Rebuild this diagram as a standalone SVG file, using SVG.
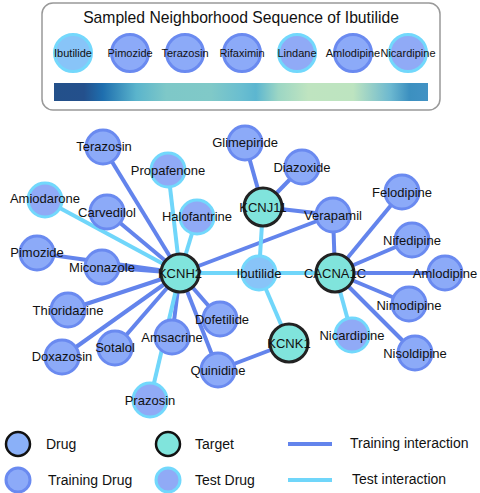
<svg xmlns="http://www.w3.org/2000/svg" width="480" height="493" viewBox="0 0 480 493">
<defs>
<linearGradient id="seq" x1="0" y1="0" x2="1" y2="0">
<stop offset="0" stop-color="#23508a"/>
<stop offset="0.08" stop-color="#24508c"/>
<stop offset="0.13" stop-color="#1e6eae"/>
<stop offset="0.22" stop-color="#5ab4cc"/>
<stop offset="0.3" stop-color="#7ec8c8"/>
<stop offset="0.42" stop-color="#80c9c8"/>
<stop offset="0.5" stop-color="#6abed0"/>
<stop offset="0.54" stop-color="#5cb6d0"/>
<stop offset="0.6" stop-color="#9cd6c4"/>
<stop offset="0.68" stop-color="#bfe4c0"/>
<stop offset="0.8" stop-color="#bde4c0"/>
<stop offset="0.9" stop-color="#6cb8d0"/>
<stop offset="0.95" stop-color="#3c90c0"/>
<stop offset="1" stop-color="#4292c4"/>
</linearGradient>
</defs>
<style>
text{font-family:"Liberation Sans",Arial,sans-serif;fill:#111;text-anchor:middle;dominant-baseline:central}
.lbl{font-size:13px}
.seqt{font-size:11px}
.leg{font-size:14px;text-anchor:start}
.tr{fill:#8caaf8;stroke:#6a8af0;stroke-width:3}
.te{fill:#90aaf6;stroke:#72d8fc;stroke-width:3}
.ib{fill:#88c4f8;stroke:#74d8fc;stroke-width:3}
.tg{fill:#80e4dc;stroke:#222;stroke-width:3}
.etr{stroke:#6384ec;stroke-width:4;fill:none}
.ete{stroke:#70d6fa;stroke-width:4;fill:none}
</style>
<rect width="480" height="493" fill="#fff"/>

<g id="sequence-panel">
<rect x="42" y="3" width="398" height="107" rx="11" fill="#fff" stroke="#999" stroke-width="1.5"/>
<text x="241" y="17" style="font-size:15.7px">Sampled Neighborhood Sequence of Ibutilide</text>
<g id="seq-Ibutilide"><circle cx="73" cy="53" r="18.5" class="ib"/><text x="73" y="53" class="seqt">Ibutilide</text></g>
<g id="seq-Pimozide"><circle cx="130" cy="53" r="18.5" class="tr"/><text x="130" y="53" class="seqt">Pimozide</text></g>
<g id="seq-Terazosin"><circle cx="185" cy="53" r="18.5" class="tr"/><text x="185" y="53" class="seqt">Terazosin</text></g>
<g id="seq-Rifaximin"><circle cx="242" cy="53" r="18.5" class="tr"/><text x="242" y="53" class="seqt">Rifaximin</text></g>
<g id="seq-Lindane"><circle cx="297" cy="53" r="18.5" class="te"/><text x="297" y="53" class="seqt">Lindane</text></g>
<g id="seq-Amlodipine"><circle cx="353" cy="53" r="18.5" class="tr"/><text x="353" y="53" class="seqt">Amlodipine</text></g>
<g id="seq-Nicardipine"><circle cx="408" cy="53" r="18.5" class="te"/><text x="408" y="53" class="seqt">Nicardipine</text></g>
<rect x="54" y="83" width="374" height="18" fill="url(#seq)"/>
</g>

<g id="connectors">
<line x1="180" y1="273" x2="103" y2="147" class="etr"/>
<line x1="180" y1="273" x2="168" y2="170" class="ete"/>
<line x1="180" y1="273" x2="45" y2="200" class="ete"/>
<line x1="180" y1="273" x2="107" y2="212" class="etr"/>
<line x1="180" y1="273" x2="197" y2="217" class="ete"/>
<line x1="180" y1="273" x2="37" y2="253" class="etr"/>
<line x1="180" y1="273" x2="102" y2="267" class="etr"/>
<line x1="180" y1="273" x2="333" y2="215" class="etr"/>
<line x1="180" y1="273" x2="259" y2="273" class="ete"/>
<line x1="180" y1="273" x2="68" y2="310" class="etr"/>
<line x1="180" y1="273" x2="62" y2="357" class="etr"/>
<line x1="180" y1="273" x2="115" y2="348" class="etr"/>
<line x1="180" y1="273" x2="172" y2="337" class="etr"/>
<line x1="180" y1="273" x2="150" y2="400" class="ete"/>
<line x1="180" y1="273" x2="220" y2="319" class="etr"/>
<line x1="180" y1="273" x2="218" y2="370" class="etr"/>
<line x1="263" y1="207" x2="245" y2="143" class="etr"/>
<line x1="263" y1="207" x2="302" y2="167" class="etr"/>
<line x1="263" y1="207" x2="333" y2="215" class="etr"/>
<line x1="263" y1="207" x2="259" y2="273" class="ete"/>
<line x1="335" y1="273" x2="333" y2="215" class="etr"/>
<line x1="335" y1="273" x2="402" y2="192" class="etr"/>
<line x1="335" y1="273" x2="412" y2="240" class="etr"/>
<line x1="335" y1="273" x2="445" y2="273" class="etr"/>
<line x1="335" y1="273" x2="409" y2="304" class="etr"/>
<line x1="335" y1="273" x2="415" y2="353" class="etr"/>
<line x1="335" y1="273" x2="352" y2="335" class="ete"/>
<line x1="335" y1="273" x2="259" y2="273" class="ete"/>
<line x1="289" y1="343" x2="259" y2="273" class="ete"/>
<line x1="289" y1="343" x2="218" y2="370" class="etr"/>
</g>

<g id="Terazosin"><circle cx="103" cy="147" r="17" class="tr"/><text x="104" y="146" class="lbl">Terazosin</text></g>
<g id="Propafenone"><circle cx="168" cy="170" r="17" class="te"/><text x="168" y="170" class="lbl">Propafenone</text></g>
<g id="Amiodarone"><circle cx="45" cy="200" r="17" class="te"/><text x="45" y="198" class="lbl">Amiodarone</text></g>
<g id="Carvedilol"><circle cx="107" cy="212" r="17" class="tr"/><text x="107" y="212" class="lbl">Carvedilol</text></g>
<g id="Halofantrine"><circle cx="197" cy="217" r="17" class="te"/><text x="197" y="216" class="lbl">Halofantrine</text></g>
<g id="Pimozide"><circle cx="37" cy="253" r="17" class="tr"/><text x="37" y="252" class="lbl">Pimozide</text></g>
<g id="Miconazole"><circle cx="102" cy="267" r="17" class="tr"/><text x="102" y="267" class="lbl">Miconazole</text></g>
<g id="Thioridazine"><circle cx="68" cy="310" r="17" class="tr"/><text x="68" y="310" class="lbl">Thioridazine</text></g>
<g id="Doxazosin"><circle cx="62" cy="357" r="17" class="tr"/><text x="62" y="356" class="lbl">Doxazosin</text></g>
<g id="Sotalol"><circle cx="115" cy="348" r="17" class="tr"/><text x="115" y="347" class="lbl">Sotalol</text></g>
<g id="Amsacrine"><circle cx="172" cy="337" r="17" class="tr"/><text x="172" y="337" class="lbl">Amsacrine</text></g>
<g id="Prazosin"><circle cx="150" cy="400" r="17" class="te"/><text x="150" y="400" class="lbl">Prazosin</text></g>
<g id="Dofetilide"><circle cx="220" cy="319" r="17" class="tr"/><text x="222" y="319" class="lbl">Dofetilide</text></g>
<g id="Quinidine"><circle cx="218" cy="370" r="17" class="tr"/><text x="218" y="370" class="lbl">Quinidine</text></g>
<g id="Glimepiride"><circle cx="245" cy="143" r="17" class="tr"/><text x="245" y="142" class="lbl">Glimepiride</text></g>
<g id="Diazoxide"><circle cx="302" cy="167" r="17" class="tr"/><text x="302" y="167" class="lbl">Diazoxide</text></g>
<g id="Verapamil"><circle cx="333" cy="215" r="17" class="tr"/><text x="333" y="215" class="lbl">Verapamil</text></g>
<g id="Felodipine"><circle cx="402" cy="192" r="17" class="tr"/><text x="402" y="192" class="lbl">Felodipine</text></g>
<g id="Nifedipine"><circle cx="412" cy="240" r="17" class="tr"/><text x="412" y="240" class="lbl">Nifedipine</text></g>
<g id="Amlodipine"><circle cx="445" cy="273" r="17" class="tr"/><text x="445" y="273" class="lbl">Amlodipine</text></g>
<g id="Nimodipine"><circle cx="409" cy="304" r="17" class="tr"/><text x="409" y="305" class="lbl">Nimodipine</text></g>
<g id="Nisoldipine"><circle cx="415" cy="353" r="17" class="tr"/><text x="415" y="353" class="lbl">Nisoldipine</text></g>
<g id="Nicardipine"><circle cx="352" cy="335" r="17" class="te"/><text x="352" y="335" class="lbl">Nicardipine</text></g>
<g id="Ibutilide"><circle cx="259" cy="273" r="17" class="ib"/><text x="259" y="273" class="lbl">Ibutilide</text></g>
<g id="KCNH2"><circle cx="180" cy="273" r="19" class="tg"/><text x="180" y="273" class="lbl">KCNH2</text></g>
<g id="KCNJ11"><circle cx="263" cy="207" r="19" class="tg"/><text x="263" y="207" class="lbl">KCNJ11</text></g>
<g id="CACNA1C"><circle cx="335" cy="273" r="19" class="tg"/><text x="335" y="273" class="lbl">CACNA1C</text></g>
<g id="KCNK1"><circle cx="289" cy="343" r="19" class="tg"/><text x="289" y="343" class="lbl">KCNK1</text></g>

<g id="legend">
<g id="leg-drug"><circle cx="18" cy="444" r="12" fill="#8ab0f8" stroke="#111" stroke-width="2.5"/><text x="46" y="444" class="leg">Drug</text></g>
<g id="leg-target"><circle cx="168" cy="444" r="12" fill="#80e4dc" stroke="#111" stroke-width="2.5"/><text x="195" y="444" class="leg">Target</text></g>
<g id="leg-train-int"><line x1="288" y1="444" x2="332" y2="444" class="etr"/><text x="350" y="443" class="leg">Training interaction</text></g>
<g id="leg-train-drug"><circle cx="18" cy="480" r="12" fill="#8caaf8" stroke="#6a8af0" stroke-width="3"/><text x="48" y="480" class="leg">Training Drug</text></g>
<g id="leg-test-drug"><circle cx="168" cy="480" r="12" fill="#90aaf6" stroke="#72d8fc" stroke-width="3"/><text x="195" y="480" class="leg">Test Drug</text></g>
<g id="leg-test-int"><line x1="288" y1="480" x2="332" y2="480" class="ete"/><text x="352" y="479" class="leg">Test interaction</text></g>
</g>
</svg>
